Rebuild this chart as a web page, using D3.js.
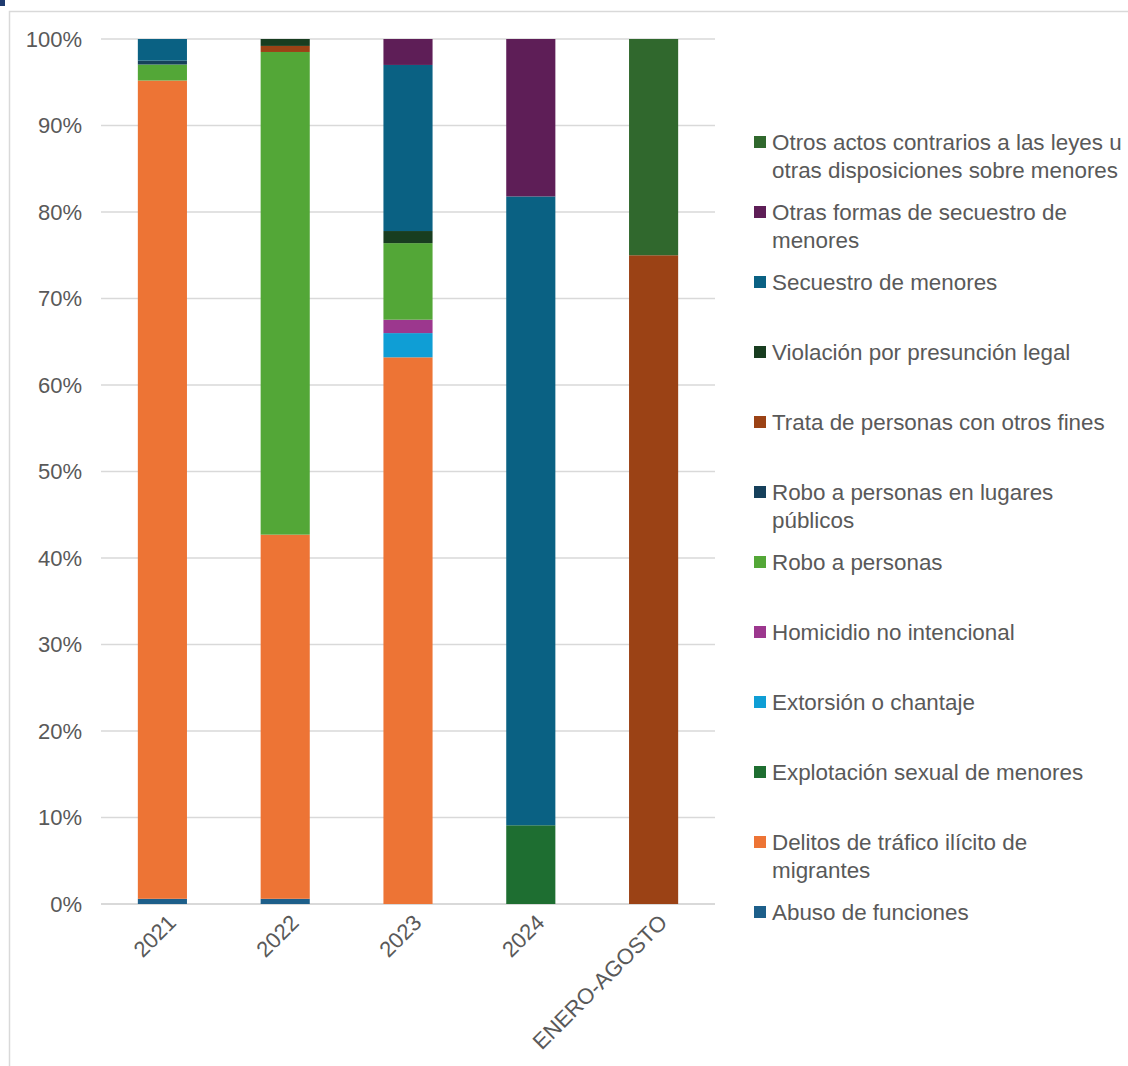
<!DOCTYPE html>
<meta charset="utf-8">
<script src="https://d3js.org/d3.v7.min.js"></script>
<style>
  body { margin: 0; background: #fff; }
  text { font-family: "Liberation Sans", Arial, sans-serif; }
</style>
<div id="my_viz"></div>
<script>

// categories along the x axis
var periods = ["2021", "2022", "2023", "2024", "ENERO-AGOSTO"];

// series (bottom of stack first), values in % of each column
var series = [
  "Abuso de funciones",
  "Delitos de tráfico ilícito de migrantes",
  "Explotación sexual de menores",
  "Extorsión o chantaje",
  "Homicidio no intencional",
  "Robo a personas",
  "Robo a personas en lugares públicos",
  "Trata de personas con otros fines",
  "Violación por presunción legal",
  "Secuestro de menores",
  "Otras formas de secuestro de menores",
  "Otros actos contrarios a las leyes u otras disposiciones sobre menores"
];

var abuso       = [0.6, 0.6, 0,    0,    0];
var trafico     = [94.6, 42.1, 63.2, 0,  0];
var explotacion = [0,   0,   0,    9.1,  0];
var extorsion   = [0,   0,   2.8,  0,    0];
var homicidio   = [0,   0,   1.55, 0,    0];
var robo        = [1.85, 55.8, 8.85, 0,  0];
var roboPublico = [0.45, 0,  0,    0,    0];
var trata       = [0,   0.7, 0,    0,    75];
var violacion   = [0,   0.8, 1.4,  0,    0];
var secuestro   = [2.5, 0,   19.2, 72.7, 0];
var otrasFormas = [0,   0,   3.0,  18.2, 0];
var otrosActos  = [0,   0,   0,    0,    25];

var seriesValues = [abuso, trafico, explotacion, extorsion, homicidio, robo,
  roboPublico, trata, violacion, secuestro, otrasFormas, otrosActos];

var colors = ["#1d5f8a", "#ed7435", "#1e6e31", "#0f9ed5", "#9c378e", "#53a737",
  "#16405b", "#9b4215", "#183d20", "#0a6183", "#5e1e57", "#30682d"];

// legend text split into lines, top entry first
var legendLines = [
  ["Otros actos contrarios a las leyes u", "otras disposiciones sobre menores"],
  ["Otras formas de secuestro de", "menores"],
  ["Secuestro de menores"],
  ["Violación por presunción legal"],
  ["Trata de personas con otros fines"],
  ["Robo a personas en lugares", "públicos"],
  ["Robo a personas"],
  ["Homicidio no intencional"],
  ["Extorsión o chantaje"],
  ["Explotación sexual de menores"],
  ["Delitos de tráfico ilícito de", "migrantes"],
  ["Abuso de funciones"]
];

var yTicks = [0, 10, 20, 30, 40, 50, 60, 70, 80, 90, 100];

// table for d3.stack
var table = periods.map(function(p, i) {
  var row = {period: p};
  series.forEach(function(s, k) { row[s] = seriesValues[k][i]; });
  return row;
});

var W = 1128, H = 1066;
var svg = d3.select("#my_viz").append("svg")
  .attr("width", W).attr("height", H);

// outer frame
svg.append("path")
  .attr("d", "M9.5," + H + "V11.5H" + W)
  .attr("fill", "none").attr("stroke", "#d9d9d9").attr("stroke-width", 1.5);
svg.append("rect").attr("x", 0).attr("y", 0).attr("width", 5).attr("height", 6)
  .attr("fill", "#1f3b6f");

var x = d3.scaleBand().domain(periods).range([101, 715]).paddingInner(0.6).paddingOuter(0.3);
var y = d3.scaleLinear().domain([0, 100]).range([904, 39]);

// gridlines
svg.append("g").selectAll("line").data(yTicks).enter().append("line")
  .attr("x1", 101).attr("x2", 715)
  .attr("y1", function(d) { return y(d); }).attr("y2", function(d) { return y(d); })
  .attr("stroke", "#d9d9d9").attr("stroke-width", function(d) { return d === 0 ? 2 : 1.3; });

// y axis labels
var yAxis = svg.append("g").attr("transform", "translate(101,0)")
  .call(d3.axisLeft(y).tickValues(yTicks).tickSize(0).tickPadding(19)
    .tickFormat(function(d) { return d + "%"; }));
yAxis.select(".domain").remove();
yAxis.selectAll("text").attr("font-size", 22).attr("fill", "#595959")
  .attr("font-family", "Liberation Sans, Arial, sans-serif");

// stacked bars
var stack = d3.stack().keys(series)(table);
svg.append("g").selectAll("g").data(stack).enter().append("g")
  .attr("fill", function(d, i) { return colors[i]; })
  .selectAll("rect").data(function(d) { return d; }).enter().append("rect")
    .attr("x", function(d) { return x(d.data.period); })
    .attr("width", x.bandwidth())
    .attr("y", function(d) { return y(d[1]); })
    .attr("height", function(d) { return y(d[0]) - y(d[1]); });

// x axis labels
var xAxis = svg.append("g").attr("transform", "translate(0,904)")
  .call(d3.axisBottom(x).tickSize(0).tickPadding(0));
xAxis.select(".domain").remove();
xAxis.selectAll("text")
  .attr("font-size", 22).attr("fill", "#595959")
  .attr("font-family", "Liberation Sans, Arial, sans-serif")
  .attr("text-anchor", "end")
  .attr("dy", 0)
  .attr("transform", "translate(15,20) rotate(-45)");

// legend
var legend = svg.append("g").selectAll("g").data(legendLines).enter().append("g")
  .attr("transform", function(d, i) { return "translate(754," + (142 + i * 70) + ")"; });
legend.append("rect")
  .attr("x", 0).attr("y", -6).attr("width", 12).attr("height", 12)
  .attr("fill", function(d, i) { return colors[colors.length - 1 - i]; });
legend.each(function(lines) {
  var g = d3.select(this);
  lines.forEach(function(t, j) {
    g.append("text").attr("x", 18).attr("y", j * 28).attr("dy", "0.35em")
      .attr("font-size", 22.4).attr("fill", "#595959").text(t);
  });
});

</script>
